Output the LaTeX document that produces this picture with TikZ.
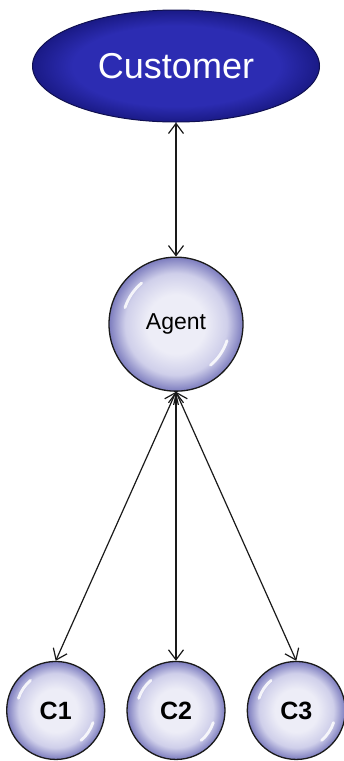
\documentclass[tikz,border=0pt]{standalone}
\usepackage{fontspec}
\setmainfont{Liberation Sans}
\usepackage{tikz}
\usetikzlibrary{arrows.meta, positioning, shapes.geometric}
\definecolor{clientblue}{HTML}{2C2CB2}
\definecolor{clientrim}{HTML}{1A1A86}
\definecolor{ballcore}{HTML}{EDEDF7}
\definecolor{ballmid}{HTML}{CFCFEA}
\definecolor{ballrim}{HTML}{7C7CBE}
\definecolor{inkline}{HTML}{1A1A1A}
% glassy fill for the balls, pale in the middle and lavender at the rim
\pgfdeclareradialshading{glass}{\pgfpoint{0bp}{0bp}}{%
    color(0bp)=(ballcore); color(11bp)=(ballcore); color(19bp)=(ballmid);
    color(25bp)=(ballrim); color(50bp)=(ballrim)}
\pgfdeclareradialshading{deepblue}{\pgfpoint{0bp}{0bp}}{%
    color(0bp)=(clientblue); color(18bp)=(clientblue);
    color(25bp)=(clientrim); color(50bp)=(clientrim)}
% white glints on a ball: node name, radius
\newcommand{\glint}[2]{%
    \draw[white, opacity=0.85, line width=2.8pt, line cap=round]
        ([shift={(162:0.8*#2)}]#1.center) arc[start angle=162, end angle=130, radius=0.8*#2];
    \draw[white, opacity=0.85, line width=2.8pt, line cap=round]
        ([shift={(-18:0.8*#2)}]#1.center) arc[start angle=-18, end angle=-50, radius=0.8*#2];
}

\begin{document}
\begin{tikzpicture}[
        x=1pt, y=1pt,
        client/.style={
            ellipse,
            draw=clientrim!60!black,
            line width=1pt,
            shading=deepblue,
            minimum width=287pt,
            minimum height=112pt,
            inner sep=0pt,
            text=white,
            font=\fontsize{36}{42}\selectfont
        },
        ball/.style={
            circle,
            draw=inkline,
            line width=1.3pt,
            shading=glass,
            inner sep=0pt
        },
        agentball/.style={ball, minimum size=134pt, font=\fontsize{23}{27}\selectfont},
        worker/.style={ball, minimum size=98pt, font=\bfseries\fontsize{25}{30}\selectfont},
        link/.style={{Straight Barb[length=10pt, width=15pt]}-{Straight Barb[length=10pt, width=15pt]}, line width=1.2pt, draw=inkline}
    ]
        \useasboundingbox (0,0) rectangle (343,-761);

        \node[client] (customer) at (176,-66) {Customer};
        \node[agentball, below=134pt of customer] (agent) {Agent};
        \node[worker, below=269pt of agent] (c2) {C2};
        \node[worker, left=21pt of c2] (c1) {C1};
        \node[worker, right=21pt of c2] (c3) {C3};

        \glint{agent}{67}
        \glint{c1}{49}
        \glint{c2}{49}
        \glint{c3}{49}

        \draw[link] (customer) -- (agent);
        \draw[link] (agent.south) -- (c1.north);
        \draw[link] (agent.south) -- (c2.north);
        \draw[link] (agent.south) -- (c3.north);
    \end{tikzpicture}
\end{document}
